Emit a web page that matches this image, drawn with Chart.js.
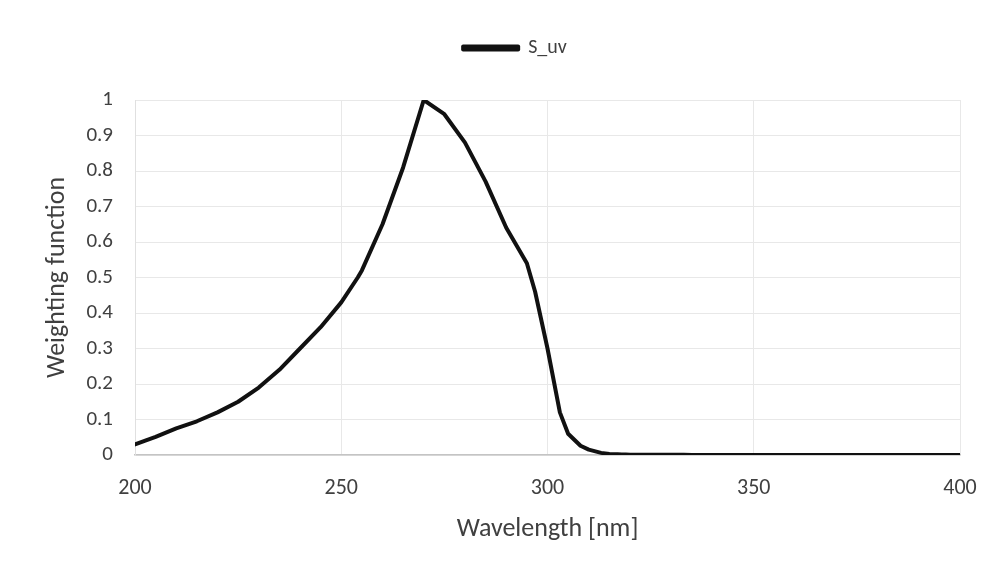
<!DOCTYPE html>
<html>
<head>
<meta charset="utf-8">
<script src="https://cdn.jsdelivr.net/npm/chart.js@4.4.1/dist/chart.umd.min.js"></script>
<style>
  html, body { margin: 0; padding: 0; background: #ffffff; }
  #wrap { width: 1001px; height: 572px; }
</style>
</head>
<body>
<div id="wrap"><canvas id="c" width="1001" height="572"></canvas></div>
<script>
// Actinic UV weighting function S_uv versus wavelength
const wavelengths = [200, 205, 210, 215, 220, 225, 230, 235, 240, 245, 250, 254, 255, 260, 265, 270,
  275, 280, 285, 290, 295, 297, 300, 303, 305, 308, 310, 313, 315, 316, 317, 318, 319, 320,
  322, 323, 325, 328, 330, 333, 335, 340, 345, 350, 355, 360, 365, 370, 375, 380, 385, 390, 395, 400];
const sUv = [0.030, 0.051, 0.075, 0.095, 0.120, 0.150, 0.190, 0.240, 0.300, 0.360, 0.430, 0.500, 0.520,
  0.650, 0.810, 1.000, 0.960, 0.880, 0.770, 0.640, 0.540, 0.460, 0.300, 0.120, 0.060, 0.026, 0.015,
  0.006, 0.003, 0.0024, 0.0020, 0.0016, 0.0012, 0.0010, 0.00067, 0.00054, 0.00050, 0.00044, 0.00041,
  0.00037, 0.00034, 0.00028, 0.00024, 0.00020, 0.00016, 0.00013, 0.00011, 0.000093, 0.000077,
  0.000064, 0.000053, 0.000044, 0.000036, 0.000030];
const seriesName = 'S_uv';
const xTitle = 'Wavelength [nm]';
const yTitle = 'Weighting function';

const FONT = "Carlito, Lato, 'Open Sans', sans-serif";
const TEXT = '#404040';

const points = wavelengths.map((w, i) => ({ x: w, y: sUv[i] }));

// outer padding and fixed plot-area edges (canvas pixels)
const PAD = { left: 42, right: 41, top: 38, bottom: 27 };
const PLOT_LEFT = 135, PLOT_BOTTOM = 455;

// move the legend up and slightly right, leaving a gap above the plot
const legendShift = {
  id: 'legendShift',
  afterLayout(chart) {
    const lg = chart.legend;
    if (lg) {
      lg.left += 14; lg.right += 14;
      lg.top -= 32; lg.bottom -= 32;
    }
  }
};

new Chart(document.getElementById('c'), {
  type: 'line',
  data: {
    datasets: [{
      label: seriesName,
      data: points,
      borderColor: '#111111',
      backgroundColor: '#111111',
      borderWidth: 4,
      pointRadius: 0,
      fill: false,
      tension: 0,
      borderCapStyle: 'round',
      borderJoinStyle: 'round'
    }]
  },
  plugins: [legendShift],
  options: {
    responsive: false,
    animation: false,
    layout: { padding: PAD },
    plugins: {
      tooltip: { enabled: false },
      legend: {
        display: true,
        position: 'top',
        labels: {
          boxWidth: 55,
          boxHeight: 3,
          color: TEXT,
          padding: 32,
          font: { family: FONT, size: 20 }
        }
      }
    },
    scales: {
      x: {
        type: 'linear',
        min: 200,
        max: 400,
        ticks: { stepSize: 50, color: TEXT, padding: 20, font: { family: FONT, size: 22 } },
        grid: { color: '#e8e8e8', lineWidth: 1, drawTicks: false },
        border: { color: '#c4c4c4', width: 1.5 },
        title: { display: true, text: xTitle, color: TEXT, font: { family: FONT, size: 26 }, padding: 0 },
        afterFit: (s) => { s.height = 572 - PAD.bottom - PLOT_BOTTOM; }
      },
      y: {
        min: 0,
        max: 1,
        ticks: {
          stepSize: 0.1, color: TEXT, padding: 22, font: { family: FONT, size: 21 },
          callback: (v) => String(Number(v.toFixed(1)))
        },
        grid: { color: '#e8e8e8', lineWidth: 1, drawTicks: false },
        border: { color: '#e0e0e0', width: 1 },
        title: { display: true, text: yTitle, color: TEXT, font: { family: FONT, size: 26 }, padding: 0 },
        afterFit: (s) => { s.width = PLOT_LEFT - PAD.left; }
      }
    }
  }
});
</script>
</body>
</html>
